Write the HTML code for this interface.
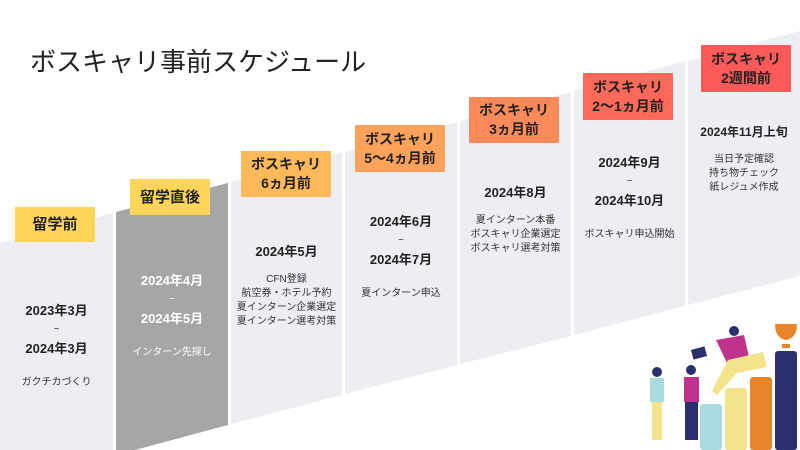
<!DOCTYPE html>
<html style="overflow:hidden;width:800px;height:450px"><head><meta charset="utf-8"><style>
body{margin:0;width:800px;height:450px;overflow:hidden;background:#fff;font-family:"Liberation Sans","Noto Sans CJK JP",sans-serif;position:relative}
.t{position:absolute;text-align:center;color:#222;}
.lab{position:absolute;text-align:center;font-weight:bold;color:#222;font-size:14px;line-height:19px;display:flex;align-items:center;justify-content:center}
.d{font-weight:bold;font-size:13px;line-height:18px}
.s{font-size:10px;line-height:14px;color:#333}
</style></head><body>
<svg width="800" height="450" style="position:absolute;left:0;top:0;display:block">
<g>
<polygon points="0,243 113,213 113,450 0,450" fill="#eceef1"/>
<polygon points="116,212 228,183 228,425 135,450 116,450" fill="#a6a6a6"/>
<polygon points="231,182 342,152 342,395 231,424" fill="#eceef1"/>
<polygon points="345,152 457,122 457,365 345,394" fill="#eceef1"/>
<polygon points="460,121 571,92 571,336 460,364" fill="#eceef1"/>
<polygon points="574,91 685,61 685,306 574,335" fill="#eceef1"/>
<polygon points="688,61 800,31 800,276 688,305" fill="#eceef1"/>
</g>
<rect x="700" y="404" width="22" height="46" rx="3" fill="#a7dbe0"/>
<rect x="725" y="388" width="22" height="62" rx="3" fill="#f3e48a"/>
<rect x="750" y="377" width="22" height="73" rx="3" fill="#e8852a"/>
<rect x="775" y="351" width="22" height="99" rx="3" fill="#2a2f6e"/>
<path d="M775 324 h22 q0 14 -11 16 q-11 -2 -11 -16z M782 344 h8 v4 h-8z" fill="#e8852a"/>
<circle cx="657" cy="372" r="5" fill="#2a2f6e"/><rect x="650" y="378" width="14" height="24" fill="#a7dbe0"/>
<rect x="652" y="402" width="10" height="38" fill="#f3e48a"/>
<circle cx="691" cy="370" r="5" fill="#2a2f6e"/><rect x="684" y="377" width="15" height="25" fill="#c0338c"/>
<rect x="685" y="402" width="13" height="38" fill="#2a2f6e"/>
<circle cx="734" cy="331" r="5" fill="#2a2f6e"/><path d="M716 340 l28 -5 l5 22 l-22 6z" fill="#c0338c"/>
<path d="M728 360 l35 -8 l4 15 l-30 6 l-20 22 l-5 -4z" fill="#f3e48a"/>
<rect x="692" y="348" width="14" height="10" fill="#2a2f6e" transform="rotate(-15 699 353)"/>
</svg>
<div class="t" style="left:30px;top:42px;font-size:26px;text-align:left;color:#222">ボスキャリ事前スケジュール</div>

<div class="lab" style="left:15px;top:207px;width:80px;height:35px;background:#fdd55b;font-size:15px">留学前</div>
<div class="lab" style="left:130px;top:179px;width:80px;height:36px;background:#fdd55b;font-size:15px">留学直後</div>
<div class="lab" style="left:241px;top:151px;width:90px;height:46px;background:#fdb95a">ボスキャリ<br>6ヵ月前</div>
<div class="lab" style="left:355px;top:125px;width:90px;height:47px;background:#fda25a">ボスキャリ<br>5〜4ヵ月前</div>
<div class="lab" style="left:469px;top:97px;width:90px;height:46px;background:#fd8a5a">ボスキャリ<br>3ヵ月前</div>
<div class="lab" style="left:583px;top:73px;width:90px;height:47px;background:#fd6a5a">ボスキャリ<br>2〜1ヵ月前</div>
<div class="lab" style="left:701px;top:45px;width:90px;height:47px;background:#fd5a5a">ボスキャリ<br>2週間前</div>

<div class="t" style="left:0;top:302px;width:113px"><div class="d">2023年3月</div><div class="s" style="line-height:20px">~</div><div class="d">2024年3月</div><div class="s" style="margin-top:18px">ガクチカづくり</div></div>
<div class="t" style="left:116px;top:272px;width:112px;color:#fff"><div class="d">2024年4月</div><div class="s" style="line-height:20px;color:#fff">~</div><div class="d">2024年5月</div><div class="s" style="margin-top:18px;color:#fff">インターン先探し</div></div>
<div class="t" style="left:231px;top:243px;width:111px"><div class="d">2024年5月</div><div class="s" style="margin-top:12px">CFN登録<br>航空券・ホテル予約<br>夏インターン企業選定<br>夏インターン選考対策</div></div>
<div class="t" style="left:345px;top:213px;width:112px"><div class="d">2024年6月</div><div class="s" style="line-height:20px">~</div><div class="d">2024年7月</div><div class="s" style="margin-top:18px">夏インターン申込</div></div>
<div class="t" style="left:460px;top:184px;width:111px"><div class="d">2024年8月</div><div class="s" style="margin-top:12px">夏インターン本番<br>ボスキャリ企業選定<br>ボスキャリ選考対策</div></div>
<div class="t" style="left:574px;top:154px;width:111px"><div class="d">2024年9月</div><div class="s" style="line-height:20px">~</div><div class="d">2024年10月</div><div class="s" style="margin-top:18px">ボスキャリ申込開始</div></div>
<div class="t" style="left:688px;top:123px;width:112px"><div class="d" style="font-size:12px">2024年11月上旬</div><div class="s" style="margin-top:12px">当日予定確認<br>持ち物チェック<br>紙レジュメ作成</div></div>
</body></html>
